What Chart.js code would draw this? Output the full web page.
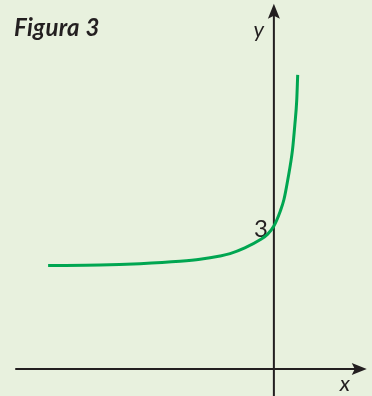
<!DOCTYPE html>
<html>
<head>
<meta charset="utf-8">
<script src="https://cdn.jsdelivr.net/npm/chart.js@4"></script>
<style>
  html, body { margin: 0; padding: 0; background: #e8f1de; }
  #wrap { position: relative; width: 372px; height: 396px; }
  #titulo { position: absolute; left: 14px; top: 12px; font: italic bold 24px Lato, "Open Sans", sans-serif; letter-spacing: 0.3px; color: #231f20; }
</style>
</head>
<body>
<div id="wrap">
  <canvas id="grafico"></canvas>
  <div id="titulo">Figura 3</div>
</div>
<script>
// puntos
const xValues = [-4.74, -3.65, -2.81, -1.97, -1.55, -1.13, -0.92, -0.61, -0.29, -0.13, 0, 0.13, 0.21, 0.29, 0.39, 0.44, 0.48, 0.50];
const yValues = [2.17, 2.18, 2.21, 2.26, 2.30, 2.37, 2.42, 2.54, 2.71, 2.83, 3.0, 3.30, 3.55, 3.96, 4.59, 5.12, 5.64, 6.17];
const yTicks = [3];
const yTickLabels = ['3'];
const axisLabels = ['x', 'y'];

const ctx = document.querySelector('#grafico').getContext('2d');

// ejes con flecha
const ejes = {
  id: 'ejes',
  beforeDatasetsDraw(chart) {
    const { ctx, scales: { x, y } } = chart;
    const x0 = x.getPixelForValue(0);
    const y0 = y.getPixelForValue(0);
    const xIni = x.getPixelForValue(-5.43);
    const xFin = x.getPixelForValue(1.95);
    const yFin = y.getPixelForValue(7.66);
    const yIni = y.getPixelForValue(-0.6);
    ctx.save();
    ctx.strokeStyle = '#231f20';
    ctx.fillStyle = '#231f20';
    ctx.lineWidth = 2;
    ctx.beginPath();
    ctx.moveTo(xIni, y0);
    ctx.lineTo(xFin - 10, y0);
    ctx.moveTo(x0, yIni);
    ctx.lineTo(x0, yFin + 10);
    ctx.stroke();
    // flecha x
    ctx.beginPath();
    ctx.moveTo(xFin, y0);
    ctx.lineTo(xFin - 15, y0 - 6);
    ctx.lineTo(xFin - 12, y0);
    ctx.lineTo(xFin - 15, y0 + 6);
    ctx.closePath();
    ctx.fill();
    // flecha y
    ctx.beginPath();
    ctx.moveTo(x0, yFin);
    ctx.lineTo(x0 - 6, yFin + 15);
    ctx.lineTo(x0, yFin + 12);
    ctx.lineTo(x0 + 6, yFin + 15);
    ctx.closePath();
    ctx.fill();
    // textos
    ctx.font = 'italic 22px Lato, "Open Sans", sans-serif';
    ctx.textAlign = 'center';
    ctx.textBaseline = 'middle';
    ctx.fillText(axisLabels[0], xFin - 22, y0 + 15);
    ctx.fillText(axisLabels[1], x0 - 15, yFin + 26);
    ctx.font = '24px Lato, "Open Sans", sans-serif';
    ctx.textAlign = 'right';
    yTicks.forEach((t, i) => {
      ctx.fillText(yTickLabels[i], x0 - 6, y.getPixelForValue(t) + 3);
    });
    ctx.restore();
  }
};

const configChart = {
  type: 'line',
  data: {
    datasets: [{
      data: xValues.map((v, i) => ({ x: v, y: yValues[i] })),
      borderColor: '#00a651',
      borderWidth: 3,
      pointRadius: 0,
      cubicInterpolationMode: 'monotone',
      fill: false
    }]
  },
  options: {
    responsive: true,
    maintainAspectRatio: false,
    animation: false,
    layout: { padding: 0 },
    plugins: { legend: { display: false }, tooltip: { enabled: false } },
    scales: {
      x: { type: 'linear', min: -5.75, max: 2.06, display: false },
      y: { type: 'linear', min: -0.566, max: 7.74, display: false }
    }
  },
  plugins: [ejes]
};

const myChart = new Chart(ctx, configChart);
</script>
</body>
</html>
